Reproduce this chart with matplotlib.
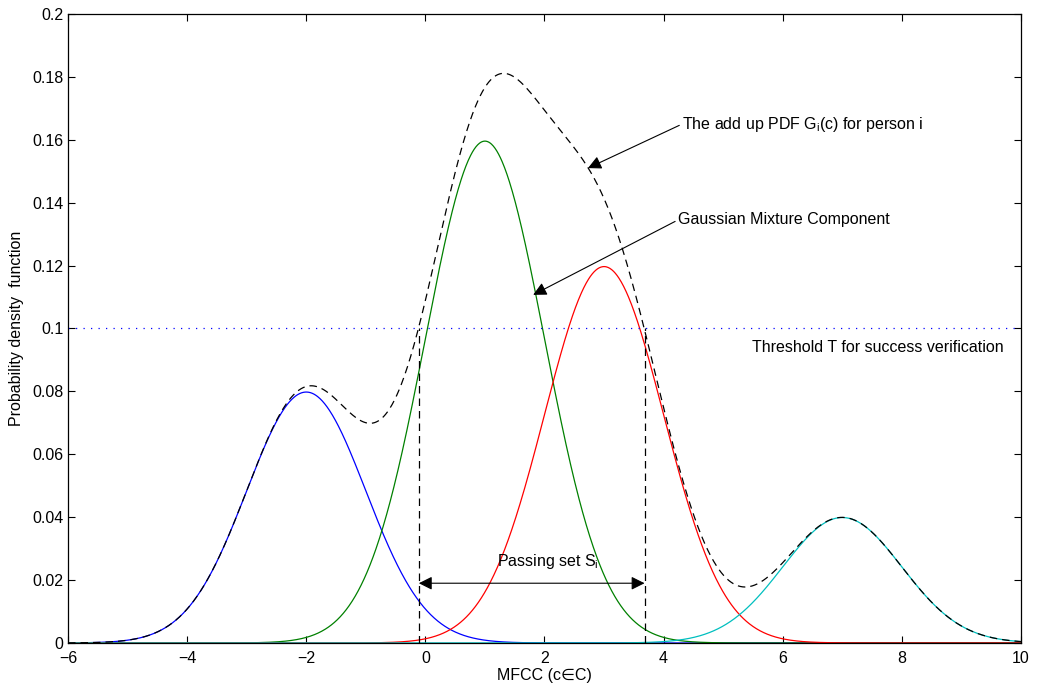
import numpy as np
import matplotlib
matplotlib.use("Agg")
import matplotlib.pyplot as plt

# ---- data ----
means = [-2.0, 1.0, 3.0, 7.0]
weights = [0.2, 0.4, 0.3, 0.1]
sigmas = [1.0, 1.0, 1.0, 1.0]
colors = ["#0000ff", "#008000", "#ff0000", "#00bfbf"]
threshold = 0.1
passing_bounds = [-0.11, 3.68]
xticks = [-6, -4, -2, 0, 2, 4, 6, 8, 10]
yticks = [0, 0.02, 0.04, 0.06, 0.08, 0.1, 0.12, 0.14, 0.16, 0.18, 0.2]
ytick_labels = ["0", "0.02", "0.04", "0.06", "0.08", "0.1", "0.12", "0.14", "0.16", "0.18", "0.2"]

plt.rcParams['font.family'] = ['Liberation Sans', 'DejaVu Sans']
plt.rcParams['mathtext.fontset'] = 'custom'
plt.rcParams['mathtext.rm'] = 'Liberation Sans'
plt.rcParams['mathtext.it'] = 'Liberation Sans:italic'

fig = plt.figure(figsize=(10.4, 6.89), dpi=100)
ax = fig.add_axes([0.0654, 0.0668, 0.9163, 0.9129])

x = np.linspace(-6, 10, 1601)
total = np.zeros_like(x)
for m, w, s, c in zip(means, weights, sigmas, colors):
    y = w / (s * np.sqrt(2 * np.pi)) * np.exp(-(x - m) ** 2 / (2 * s ** 2))
    total += y
    ax.plot(x, y, color=c, lw=0.9)

ax.plot(x, total, color='k', lw=0.9, ls=(0, (6, 4)))
ax.axhline(threshold, color='#0000ff', lw=0.9, ls=(0, (1, 5)))
for b in passing_bounds:
    ax.plot([b, b], [0, threshold], color='k', lw=0.9, ls=(0, (6, 4)))

fs = 11.5
arrow_kw = dict(arrowstyle='-|>', color='k', lw=0.8, mutation_scale=20,
                shrinkA=0, shrinkB=0, relpos=(0, 0.5))

ax.annotate('', xy=(passing_bounds[1], 0.019), xytext=(passing_bounds[0], 0.019),
            arrowprops=dict(arrowstyle='<|-|>', color='k', lw=0.8, mutation_scale=20,
                            shrinkA=0, shrinkB=0))
ax.text(1.2, 0.026, r'Passing set S$_{\mathregular{i}}$', fontsize=fs, va='center', ha='left')

ax.annotate(r'The add up PDF G$_{\mathregular{i}}$(c) for person i', xy=(2.73, 0.151),
            xytext=(4.31, 0.165), fontsize=fs, va='center', ha='left',
            arrowprops=arrow_kw)
ax.annotate('Gaussian Mixture Component', xy=(1.81, 0.1107),
            xytext=(4.24, 0.1345), fontsize=fs, va='center', ha='left',
            arrowprops=arrow_kw)
ax.text(5.48, 0.0941, 'Threshold T for success verification', fontsize=fs, va='center', ha='left')

ax.set_xlim(-6, 10)
ax.set_ylim(0, 0.2)
ax.set_xticks(xticks)
ax.set_xticklabels([f"\u2212{abs(t)}" if t < 0 else str(t) for t in xticks])
ax.set_yticks(yticks)
ax.set_yticklabels(ytick_labels)
ax.tick_params(direction='in', length=5, width=0.8, top=True, right=True, labelsize=11.5)
ax.tick_params(axis='x', pad=6)
for sp in ax.spines.values():
    sp.set_linewidth(0.9)
ax.set_xlabel('MFCC (c\u2208C)', fontsize=fs, labelpad=1)
ax.set_ylabel('Probability density  function', fontsize=fs, labelpad=6)

fig.savefig('out.png', dpi=100)
